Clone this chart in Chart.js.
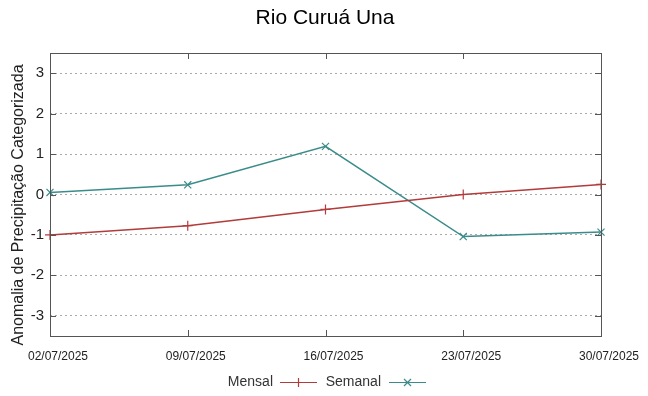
<!DOCTYPE html>
<html>
<head>
<meta charset="utf-8">
<script src="https://cdn.jsdelivr.net/npm/chart.js@4"></script>
<style>
  html, body { margin: 0; padding: 0; background: #fff; }
  #wrap { width: 648px; height: 396px; }
</style>
</head>
<body>
<div id="wrap"><canvas id="chart" width="648" height="396"></canvas></div>
<script>
const dates = ['02/07/2025', '09/07/2025', '16/07/2025', '23/07/2025', '30/07/2025'];
const mensal = [-1.0, -0.77, -0.37, 0.0, 0.25];
const semanal = [0.05, 0.24, 1.19, -1.04, -0.93];
const yTicks = [-3, -2, -1, 0, 1, 2, 3];

const redColor = '#b23b3b';
const tealColor = '#3a8c8a';
const fontFam = '"Liberation Sans", Arial, sans-serif';

// gnuplot style frame, inward ticks, title, y title and legend
const frame = {
    id: 'frame',
    afterDraw(chart) {
        const ctx = chart.ctx;
        const a = chart.chartArea;
        const xs = chart.scales.x;
        const ys = chart.scales.y;
        ctx.save();
        ctx.strokeStyle = '#555';
        ctx.lineWidth = 1;
        ctx.strokeRect(Math.round(a.left) + 0.5, Math.round(a.top) + 0.5,
            Math.round(a.right - a.left), Math.round(a.bottom - a.top));
        ctx.beginPath();
        dates.forEach((d, i) => {
            const x = Math.round(xs.getPixelForValue(i)) + 0.5;
            ctx.moveTo(x, a.bottom); ctx.lineTo(x, a.bottom - 6);
            ctx.moveTo(x, a.top); ctx.lineTo(x, a.top + 6);
        });
        yTicks.forEach(v => {
            const y = Math.round(ys.getPixelForValue(v)) + 0.5;
            ctx.moveTo(a.left, y); ctx.lineTo(a.left + 6, y);
            ctx.moveTo(a.right, y); ctx.lineTo(a.right - 6, y);
        });
        ctx.stroke();

        ctx.fillStyle = '#000';
        ctx.font = '21px ' + fontFam;
        ctx.textAlign = 'center';
        ctx.textBaseline = 'middle';
        ctx.fillText('Rio Curuá Una', 325, 18);

        // y axis title
        ctx.save();
        ctx.translate(19, 205);
        ctx.rotate(-Math.PI / 2);
        ctx.fillStyle = '#222';
        ctx.font = '16px ' + fontFam;
        ctx.fillText('Anomalia de Precipitação Categorizada', 0, 0);
        ctx.restore();

        // legend
        ctx.font = '14px ' + fontFam;
        ctx.textAlign = 'right';
        const ly = 382;
        const items = [
            { label: 'Mensal', color: redColor, end: 273, x0: 280, style: 'plus' },
            { label: 'Semanal', color: tealColor, end: 381, x0: 389, style: 'x' }
        ];
        items.forEach(it => {
            ctx.fillStyle = '#333';
            ctx.fillText(it.label, it.end, ly);
            ctx.strokeStyle = it.color;
            ctx.lineWidth = 1.2;
            ctx.beginPath();
            ctx.moveTo(it.x0, ly + 0.5); ctx.lineTo(it.x0 + 37, ly + 0.5);
            const m = it.x0 + 18.5;
            if (it.style === 'plus') {
                ctx.moveTo(m, ly - 4); ctx.lineTo(m, ly + 5);
            } else {
                ctx.moveTo(m - 3.5, ly - 3); ctx.lineTo(m + 3.5, ly + 4);
                ctx.moveTo(m + 3.5, ly - 3); ctx.lineTo(m - 3.5, ly + 4);
            }
            ctx.stroke();
        });
        ctx.restore();
    }
};

new Chart(document.getElementById('chart'), {
    type: 'line',
    data: {
        labels: dates,
        datasets: [
            {
                label: 'Mensal',
                data: mensal,
                borderColor: redColor,
                backgroundColor: redColor,
                borderWidth: 1.5,
                pointStyle: 'cross',
                pointRadius: 5,
                pointBorderWidth: 1.2,
                tension: 0
            },
            {
                label: 'Semanal',
                data: semanal,
                borderColor: tealColor,
                backgroundColor: tealColor,
                borderWidth: 1.5,
                pointStyle: 'crossRot',
                pointRadius: 5,
                pointBorderWidth: 1.2,
                tension: 0
            }
        ]
    },
    options: {
        responsive: false,
        animation: false,
        layout: { padding: { left: 0, right: 47, top: 53, bottom: 0 } },
        plugins: {
            legend: { display: false },
            title: { display: false },
            tooltip: { enabled: false }
        },
        scales: {
            x: {
                type: 'category',
                offset: false,
                grid: { display: false, drawTicks: false },
                border: { display: false },
                ticks: {
                    padding: 13,
                    labelOffset: 8,
                    maxRotation: 0,
                    autoSkip: false,
                    color: '#222',
                    font: { family: fontFam, size: 12 }
                },
                afterFit(scale) { scale.height = 60; }
            },
            y: {
                min: -3.5,
                max: 3.5,
                afterBuildTicks(scale) { scale.ticks = yTicks.map(v => ({ value: v })); },
                grid: {
                    color: '#aaa',
                    lineWidth: 1,
                    drawTicks: false
                },
                border: { display: false, dash: [2, 3] },
                ticks: {
                    padding: 6,
                    color: '#222',
                    font: { family: fontFam, size: 15 }
                },
                afterFit(scale) { scale.width = 50; }
            }
        }
    },
    plugins: [frame]
});
</script>
</body>
</html>
